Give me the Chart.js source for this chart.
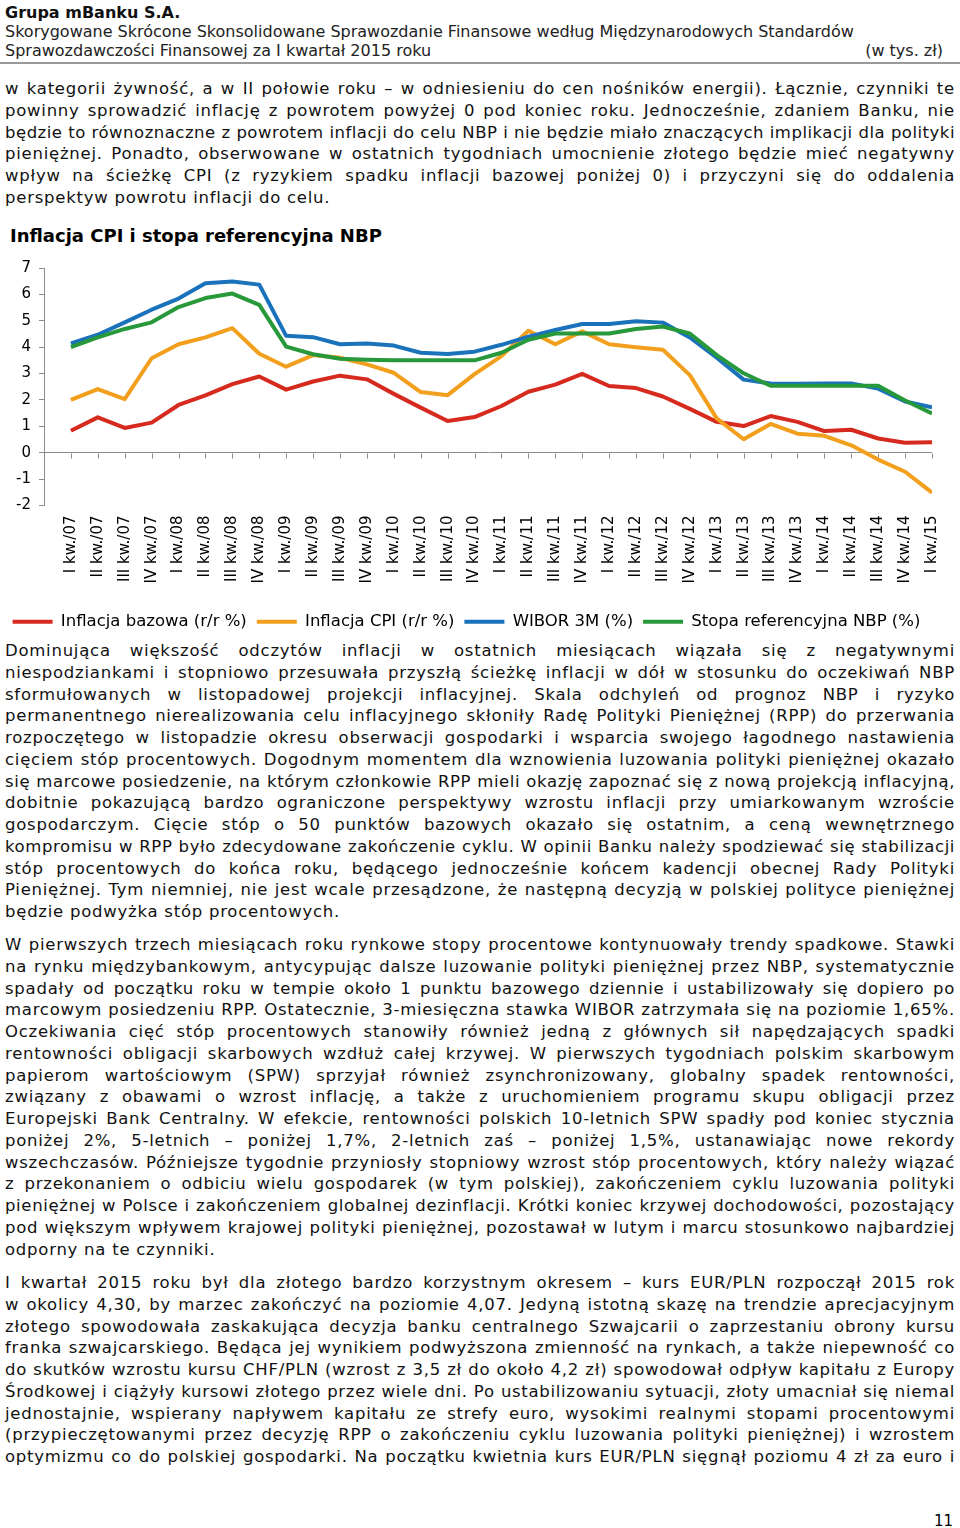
<!DOCTYPE html>
<html lang="pl">
<head>
<meta charset="UTF-8">
<title>Inflacja CPI i stopa referencyjna NBP</title>
<script src="https://cdn.jsdelivr.net/npm/chart.js"></script>
<style>
  html, body { margin: 0; padding: 0; background: #fff; }
  body { width: 960px; height: 1528px; position: relative; overflow: hidden;
         font-family: "DejaVu Sans", sans-serif; color: #111; }
  .abs { position: absolute; }
  .hdr { left: 5px; width: 950px; font-size: 16px; line-height: 19px; color: #222; }
  .rule { left: 0; width: 960px; top: 62px; height: 2px; background: #999; }
  .par { left: 5px; width: 950px; font-size: 16.5px; line-height: 21.75px; }
  .ln { text-align: justify; text-align-last: justify; height: 21.75px; letter-spacing: 0.75px; }
  .ln.last { text-align: left; text-align-last: left; }
  .title { left: 10px; top: 225px; font-weight: bold; font-size: 18px; line-height: 22px; color: #000; }
  #wrap { left: 0; top: 250px; width: 960px; height: 390px; }
</style>
</head>
<body>
<div class="abs hdr" style="top:3px;font-weight:bold;color:#111">Grupa mBanku S.A.</div>
<div class="abs hdr" style="top:22px">Skorygowane Skrócone Skonsolidowane Sprawozdanie Finansowe według Międzynarodowych Standardów</div>
<div class="abs hdr" style="top:41px">Sprawozdawczości Finansowej za I kwartał 2015 roku<span style="float:right;margin-right:12px">(w tys. zł)</span></div>
<div class="abs rule"></div>

<div class="abs par" style="top:78px">
<div class="ln">w kategorii żywność, a w II połowie roku – w odniesieniu do cen nośników energii). Łącznie, czynniki te</div>
<div class="ln">powinny sprowadzić inflację z powrotem powyżej 0 pod koniec roku. Jednocześnie, zdaniem Banku, nie</div>
<div class="ln">będzie to równoznaczne z powrotem inflacji do celu NBP i nie będzie miało znaczących implikacji dla polityki</div>
<div class="ln">pieniężnej. Ponadto, obserwowane w ostatnich tygodniach umocnienie złotego będzie mieć negatywny</div>
<div class="ln">wpływ na ścieżkę CPI (z ryzykiem spadku inflacji bazowej poniżej 0) i przyczyni się do oddalenia</div>
<div class="ln last">perspektyw powrotu inflacji do celu.</div>
</div>

<div class="abs title">Inflacja CPI i stopa referencyjna NBP</div>
<div class="abs" id="wrap"><canvas id="chart"></canvas></div>

<div class="abs par" style="top:640px">
<div class="ln">Dominująca większość odczytów inflacji w ostatnich miesiącach wiązała się z negatywnymi</div>
<div class="ln">niespodziankami i stopniowo przesuwała przyszłą ścieżkę inflacji w dół w stosunku do oczekiwań NBP</div>
<div class="ln">sformułowanych w listopadowej projekcji inflacyjnej. Skala odchyleń od prognoz NBP i ryzyko</div>
<div class="ln">permanentnego nierealizowania celu inflacyjnego skłoniły Radę Polityki Pieniężnej (RPP) do przerwania</div>
<div class="ln">rozpoczętego w listopadzie okresu obserwacji gospodarki i wsparcia swojego łagodnego nastawienia</div>
<div class="ln">cięciem stóp procentowych. Dogodnym momentem dla wznowienia luzowania polityki pieniężnej okazało</div>
<div class="ln">się marcowe posiedzenie, na którym członkowie RPP mieli okazję zapoznać się z nową projekcją inflacyjną,</div>
<div class="ln">dobitnie pokazującą bardzo ograniczone perspektywy wzrostu inflacji przy umiarkowanym wzroście</div>
<div class="ln">gospodarczym. Cięcie stóp o 50 punktów bazowych okazało się ostatnim, a ceną wewnętrznego</div>
<div class="ln">kompromisu w RPP było zdecydowane zakończenie cyklu. W opinii Banku należy spodziewać się stabilizacji</div>
<div class="ln">stóp procentowych do końca roku, będącego jednocześnie końcem kadencji obecnej Rady Polityki</div>
<div class="ln">Pieniężnej. Tym niemniej, nie jest wcale przesądzone, że następną decyzją w polskiej polityce pieniężnej</div>
<div class="ln last">będzie podwyżka stóp procentowych.</div>
</div>

<div class="abs par" style="top:934px">
<div class="ln">W pierwszych trzech miesiącach roku rynkowe stopy procentowe kontynuowały trendy spadkowe. Stawki</div>
<div class="ln">na rynku międzybankowym, antycypując dalsze luzowanie polityki pieniężnej przez NBP, systematycznie</div>
<div class="ln">spadały od początku roku w tempie około 1 punktu bazowego dziennie i ustabilizowały się dopiero po</div>
<div class="ln">marcowym posiedzeniu RPP. Ostatecznie, 3-miesięczna stawka WIBOR zatrzymała się na poziomie 1,65%.</div>
<div class="ln">Oczekiwania cięć stóp procentowych stanowiły również jedną z głównych sił napędzających spadki</div>
<div class="ln">rentowności obligacji skarbowych wzdłuż całej krzywej. W pierwszych tygodniach polskim skarbowym</div>
<div class="ln">papierom wartościowym (SPW) sprzyjał również zsynchronizowany, globalny spadek rentowności,</div>
<div class="ln">związany z obawami o wzrost inflację, a także z uruchomieniem programu skupu obligacji przez</div>
<div class="ln">Europejski Bank Centralny. W efekcie, rentowności polskich 10-letnich SPW spadły pod koniec stycznia</div>
<div class="ln">poniżej 2%, 5-letnich – poniżej 1,7%, 2-letnich zaś – poniżej 1,5%, ustanawiając nowe rekordy</div>
<div class="ln">wszechczasów. Późniejsze tygodnie przyniosły stopniowy wzrost stóp procentowych, który należy wiązać</div>
<div class="ln">z przekonaniem o odbiciu wielu gospodarek (w tym polskiej), zakończeniem cyklu luzowania polityki</div>
<div class="ln">pieniężnej w Polsce i zakończeniem globalnej dezinflacji. Krótki koniec krzywej dochodowości, pozostający</div>
<div class="ln">pod większym wpływem krajowej polityki pieniężnej, pozostawał w lutym i marcu stosunkowo najbardziej</div>
<div class="ln last">odporny na te czynniki.</div>
</div>

<div class="abs par" style="top:1272px">
<div class="ln">I kwartał 2015 roku był dla złotego bardzo korzystnym okresem – kurs EUR/PLN rozpoczął 2015 rok</div>
<div class="ln">w okolicy 4,30, by marzec zakończyć na poziomie 4,07. Jedyną istotną skazę na trendzie aprecjacyjnym</div>
<div class="ln">złotego spowodowała zaskakująca decyzja banku centralnego Szwajcarii o zaprzestaniu obrony kursu</div>
<div class="ln">franka szwajcarskiego. Będąca jej wynikiem podwyższona zmienność na rynkach, a także niepewność co</div>
<div class="ln">do skutków wzrostu kursu CHF/PLN (wzrost z 3,5 zł do około 4,2 zł) spowodował odpływ kapitału z Europy</div>
<div class="ln">Środkowej i ciążyły kursowi złotego przez wiele dni. Po ustabilizowaniu sytuacji, złoty umacniał się niemal</div>
<div class="ln">jednostajnie, wspierany napływem kapitału ze strefy euro, wysokimi realnymi stopami procentowymi</div>
<div class="ln">(przypieczętowanymi przez decyzję RPP o zakończeniu cyklu luzowania polityki pieniężnej) i wzrostem</div>
<div class="ln">optymizmu co do polskiej gospodarki. Na początku kwietnia kurs EUR/PLN sięgnął poziomu 4 zł za euro i</div>
</div>

<div class="abs" style="right:7px;top:1512px;font-size:15px;line-height:18px;color:#000">11</div>

<script>
// kwartały
const kwartaly = ['I kw./07', 'II kw./07', 'III kw./07', 'IV kw./07',
                  'I kw./08', 'II kw./08', 'III kw./08', 'IV kw./08',
                  'I kw./09', 'II kw./09', 'III kw./09', 'IV kw./09',
                  'I kw./10', 'II kw./10', 'III kw./10', 'IV kw./10',
                  'I kw./11', 'II kw./11', 'III kw./11', 'IV kw./11',
                  'I kw./12', 'II kw./12', 'III kw./12', 'IV kw./12',
                  'I kw./13', 'II kw./13', 'III kw./13', 'IV kw./13',
                  'I kw./14', 'II kw./14', 'III kw./14', 'IV kw./14',
                  'I kw./15'];

const inflacjaBazowa = [0.83, 1.34, 0.94, 1.14, 1.81, 2.17, 2.6, 2.89,
                        2.39, 2.7, 2.92, 2.78, 2.23, 1.71, 1.2, 1.35,
                        1.77, 2.31, 2.58, 2.99, 2.53, 2.45, 2.13, 1.66,
                        1.17, 1.01, 1.39, 1.17, 0.82, 0.87, 0.54, 0.38, 0.4];

const inflacjaCPI = [2.0, 2.41, 2.03, 3.58, 4.11, 4.37, 4.72, 3.75,
                     3.26, 3.7, 3.6, 3.35, 3.03, 2.3, 2.18, 2.98,
                     3.66, 4.62, 4.11, 4.6, 4.11, 4.0, 3.9, 2.94,
                     1.3, 0.51, 1.09, 0.72, 0.64, 0.28, -0.26, -0.72, -1.51];

const wibor3M = [4.14, 4.47, 4.94, 5.42, 5.84, 6.42, 6.49, 6.37,
                 4.43, 4.38, 4.11, 4.14, 4.06, 3.79, 3.74, 3.83,
                 4.09, 4.4, 4.65, 4.88, 4.88, 4.98, 4.93, 4.37,
                 3.6, 2.77, 2.62, 2.61, 2.62, 2.62, 2.43, 1.94, 1.72];

const stopaNBP = [4.0, 4.37, 4.69, 4.94, 5.52, 5.86, 6.03, 5.6,
                  4.02, 3.73, 3.56, 3.52, 3.5, 3.5, 3.5, 3.5,
                  3.79, 4.28, 4.52, 4.52, 4.52, 4.69, 4.78, 4.52,
                  3.7, 3.01, 2.54, 2.54, 2.54, 2.54, 2.54, 1.98, 1.49];

const yTicks = [-2, -1, 0, 1, 2, 3, 4, 5, 6, 7];

// dopasowanie wierszy tekstu do szerokości kolumny
document.querySelectorAll('.ln').forEach(el => {
  let ls = 0.75;
  el.style.height = 'auto';
  while (el.offsetHeight > 30 && ls > -1.5) {
    ls -= 0.05;
    el.style.letterSpacing = ls + 'px';
  }
  el.style.height = '';
});

const pts = arr => arr.map((v, i) => ({ x: i, y: v }));
const fontVerd = "'DejaVu Sans', sans-serif";

// kreski podziałki na osi zera
const zeroTicks = {
  id: 'zeroTicks',
  beforeDatasetsDraw(chart) {
    const { ctx, scales: { x, y } } = chart;
    const y0 = Math.round(y.getPixelForValue(0)) + 0.5;
    ctx.save();
    ctx.strokeStyle = '#8c8c8c';
    ctx.lineWidth = 1;
    ctx.beginPath();
    kwartaly.forEach((_, i) => {
      const px = Math.round(x.getPixelForValue(i)) + 0.5;
      ctx.moveTo(px, y0);
      ctx.lineTo(px, y0 + 5);
    });
    ctx.stroke();
    ctx.restore();
  }
};

new Chart(document.getElementById('chart'), {
  type: 'line',
  data: {
    datasets: [
      { label: 'Inflacja bazowa (r/r %)', data: pts(inflacjaBazowa), borderColor: '#d72a1f', order: 3 },
      { label: 'Inflacja CPI (r/r %)', data: pts(inflacjaCPI), borderColor: '#f29f1d', order: 2 },
      { label: 'WIBOR 3M (%)', data: pts(wibor3M), borderColor: '#1a73ba', order: 1 },
      { label: 'Stopa referencyjna NBP (%)', data: pts(stopaNBP), borderColor: '#27993a', order: 0 }
    ]
  },
  options: {
    responsive: true,
    maintainAspectRatio: false,
    animation: false,
    layout: { padding: { top: 18, right: 27, left: 0, bottom: 0 } },
    elements: {
      line: { borderWidth: 4, tension: 0, borderCapStyle: 'butt', borderJoinStyle: 'round', fill: false },
      point: { radius: 0, hoverRadius: 0 }
    },
    scales: {
      x: {
        type: 'linear',
        min: -1,
        max: kwartaly.length - 1,
        grid: { display: false, drawTicks: false },
        border: { display: false },
        afterFit: s => { s.height = 98; },
        afterBuildTicks: s => { s.ticks = kwartaly.map((_, i) => ({ value: i })); },
        ticks: {
          autoSkip: false,
          minRotation: 90,
          maxRotation: 90,
          padding: 10,
          color: '#000',
          font: { family: fontVerd, size: 15 },
          callback: v => kwartaly[v] || ''
        }
      },
      y: {
        min: -2,
        max: 7,
        afterFit: s => { s.width = 44; },
        afterBuildTicks: s => { s.ticks = yTicks.map(v => ({ value: v })); },
        grid: {
          drawOnChartArea: true,
          drawTicks: true,
          tickLength: 5,
          tickColor: '#8c8c8c',
          color: c => (c.tick && c.tick.value === 0 ? '#8c8c8c' : 'rgba(0,0,0,0)')
        },
        border: { display: true, color: '#8c8c8c' },
        ticks: { padding: 8, color: '#000', font: { family: fontVerd, size: 15 } }
      }
    },
    plugins: {
      tooltip: { enabled: false },
      title: { display: false },
      legend: {
        position: 'bottom',
        labels: {
          boxWidth: 40,
          boxHeight: 4,
          padding: 10,
          color: '#000',
          font: { family: fontVerd, size: 16.5 },
          generateLabels: chart => chart.data.datasets.map((ds, i) => ({
            text: ds.label,
            fillStyle: ds.borderColor,
            strokeStyle: ds.borderColor,
            lineWidth: 0,
            hidden: false,
            datasetIndex: i,
            fontColor: '#000'
          }))
        }
      }
    }
  },
  plugins: [zeroTicks]
});
</script>
</body>
</html>
